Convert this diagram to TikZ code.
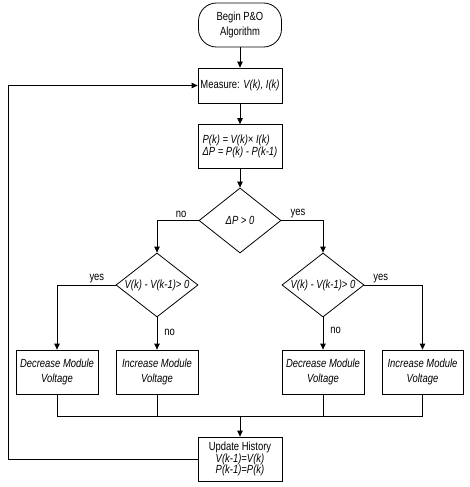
\documentclass[tikz,border=0pt]{standalone}
\usepackage{fontspec}
\setmainfont[FakeStretch=0.8]{Liberation Sans}
\usetikzlibrary{shapes.geometric,arrows.meta}
\tikzset{
  base/.style={draw, line width=0.8pt, inner sep=2pt, align=center, font=\fontsize{11.8}{15}\selectfont},
  procbox/.style={base, rectangle, minimum width=84pt, minimum height=44pt},
  termbox/.style={base, rectangle, rounded corners=18pt, minimum width=83pt, minimum height=44pt},
  decision/.style={base, diamond, inner sep=0pt, minimum width=82pt, minimum height=64pt},
  conn/.style={line width=0.8pt},
  arrow/.style={conn, -{Triangle[length=6pt,width=5.5pt]}},
  lbl/.style={font=\fontsize{11.8}{13}\selectfont, inner sep=2pt}
}
\begin{document}
\begin{tikzpicture}[x=1pt,y=-1pt]
\useasboundingbox[fill=white] (0,0) rectangle (470,487);
\node[termbox] (begin) at (240,25) {Begin P\&O\\Algorithm};
\node[procbox, minimum height=35pt] (meas) at (240,85.5) {Measure: \textit{V(k), I(k)}};
\node[procbox, align=left, font=\fontsize{11.8}{11.5}\selectfont] (pow) at (240,146.5) {\textit{P(k) = V(k)× I(k)}\\\textit{ΔP = P(k) - P(k-1)}};
\node[decision, minimum height=65pt] (d1) at (240,220.5) {\makebox[0pt]{\textit{ΔP > 0}}};
\node[decision] (d2) at (157,285) {\makebox[0pt]{\textit{V(k) - V(k-1)> 0}}};
\node[decision] (d3) at (323,285) {\makebox[0pt]{\textit{V(k) - V(k-1)> 0}}};
\node[procbox, minimum width=82pt, font=\fontsize{11.8}{14.3}\selectfont] (b1) at (57,372) {\textit{Decrease Module}\\\textit{Voltage}};
\node[procbox, minimum width=82pt, font=\fontsize{11.8}{14.3}\selectfont] (b2) at (157,372) {\textit{Increase Module}\\\textit{Voltage}};
\node[procbox, minimum width=82pt, font=\fontsize{11.8}{14.3}\selectfont] (b3) at (323,372) {\textit{Decrease Module}\\\textit{Voltage}};
\node[procbox, minimum width=81pt, font=\fontsize{11.8}{14.3}\selectfont] (b4) at (422.5,372) {\textit{Increase Module}\\\textit{Voltage}};
\node[procbox, font=\fontsize{11.8}{11.5}\selectfont] (upd) at (240,459) {Update History\\\textit{V(k-1)=V(k)}\\\textit{P(k-1)=P(k)}};
\coordinate (bus) at (240,416);
\coordinate (loopb) at (8,459);
\coordinate (loopt) at (8,85.5);
% main chain
\draw[arrow] (begin) -- (meas);
\draw[arrow] (meas) -- (pow);
\draw[arrow] (pow) -- (d1);
% first decision
\draw[arrow] (d1.west) -| node[lbl, pos=0.21, above] {no} (d2.north);
\draw[arrow] (d1.east) -| node[lbl, pos=0.2, above] {yes} (d3.north);
% second level
\draw[arrow] (d2.west) -| node[lbl, pos=0.16, above] {yes} (b1.north);
\draw[arrow] (d2.south) -- node[lbl, pos=0.45, anchor=west, xshift=5pt] {no} (b2.north);
\draw[arrow] (d3.south) -- node[lbl, pos=0.4, anchor=west, xshift=5pt] {no} (b3.north);
\draw[arrow] (d3.east) -| node[lbl, pos=0.14, above] {yes} (b4.north);
% bus
\draw[conn] (b1.south) |- (b4.south |- bus) -- (b4.south);
\draw[conn] (b2.south) -- (b2.south |- bus);
\draw[conn] (b3.south) -- (b3.south |- bus);
\draw[arrow] (bus) -- (upd.north);
% loop back
\draw[arrow] (upd.west) -- (loopb) -- (loopt) -- (meas.west);
\end{tikzpicture}
\end{document}
